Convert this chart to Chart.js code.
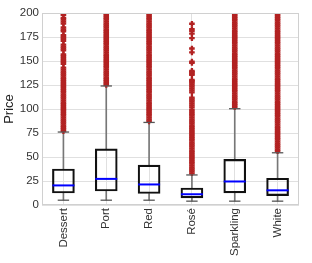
<!DOCTYPE html>
<html>
<head>
<meta charset="utf-8">
<script src="https://cdn.jsdelivr.net/npm/chart.js@4"></script>
<style>
  html, body { margin: 0; padding: 0; background: #fff; }
  #wrap { width: 312px; height: 263px; }
</style>
</head>
<body>
<div id="wrap"><canvas id="chart"></canvas></div>
<script>
// ─── Data ───
const categories = ['Dessert', 'Port', 'Red', 'Rosé', 'Sparkling', 'White'];
const whiskerLow = [5, 5, 5, 4, 4, 4];
const q1 = [12.5, 14.6, 12, 7.5, 12.6, 9.8];
const median = [20.4, 27.2, 21.4, 11.2, 24.5, 15.3];
const q3 = [37.5, 58.5, 41.5, 17.7, 47.6, 27.9];
const whiskerHigh = [76, 124, 86, 31.3, 100.3, 54.4];

const outDessert = [77, 79, 81, 83, 85, 87, 89, 91, 93, 95, 97, 99, 101, 103, 105, 107, 109, 111, 113, 115, 117,
  119, 121, 123, 125, 127, 129, 131, 133, 135, 137, 139, 141, 143, 147, 149, 151, 153, 155, 157, 161, 163, 165,
  167, 171, 173, 175, 177, 181, 183, 185, 189, 191, 193, 195, 198, 200, 202, 204];
const outPort = [125, 127, 129, 131, 133, 135, 137, 139, 141, 143, 145, 147, 149, 151, 153, 155, 157, 159, 161,
  163, 165, 167, 169, 171, 173, 175, 177, 179, 181, 183, 185, 187, 189, 191, 193, 195, 197, 199, 201, 203];
const outRed = [87, 89, 91, 93, 95, 97, 99, 101, 103, 105, 107, 109, 111, 113, 115, 117, 119, 121, 123, 125, 127,
  129, 131, 133, 135, 137, 139, 141, 143, 145, 147, 149, 151, 153, 155, 157, 159, 161, 163, 165, 167, 169, 171,
  173, 175, 177, 179, 181, 183, 185, 187, 189, 191, 193, 195, 197, 199, 201, 203];
const outRose = [33, 35, 37, 39, 41, 43, 45, 47, 49, 51, 53, 55, 57, 59, 61, 63, 65, 67, 69, 71, 73, 75, 77, 79,
  81, 83, 85, 87, 89, 91, 93, 95, 97, 99, 101.7, 103.8, 105.8, 107.9, 109.9, 111.9, 117.3, 119.4, 121.4, 123.5,
  125.5, 127.6, 128.9, 130.3, 135.7, 137, 138.4, 139.8, 148, 149.3, 158.9, 163, 173.8, 178.6, 181.3, 183.3, 188.8];
const outSparkling = [102, 104, 106, 108, 110, 112, 114, 116, 118, 120, 122, 124, 126, 128, 130, 132, 134, 136,
  138, 140, 142, 144, 146, 148, 150, 152, 154, 156, 158, 160, 162, 164, 166, 168, 170, 172, 174, 176, 178, 180,
  182, 184, 186, 188, 190, 192, 194, 196, 198, 200, 202, 204];
const outWhite = [56, 58, 60, 62, 64, 66, 68, 70, 72, 74, 76, 78, 80, 82, 84, 86, 88, 90, 92, 94, 96, 98, 100, 102,
  104, 106, 108, 110, 112, 114, 116, 118, 120, 122, 124, 126, 128, 130, 132, 134, 136, 138, 140, 142, 144, 146,
  148, 150, 152, 154, 156, 158, 160, 162, 164, 166, 168, 170, 172, 174, 176, 178, 180, 182, 184, 186, 188, 190,
  192, 194, 196, 198, 200, 202, 204];
const outliers = [outDessert, outPort, outRed, outRose, outSparkling, outWhite];

const yTicks = [0, 25, 50, 75, 100, 125, 150, 175, 200];

const FONT = "'Liberation Sans', Arial, sans-serif";
const TEXT = '#333';
const GRID = '#e0e0e0';

// x/y pairs for the point-style marks
const atCats = vals => vals.map((v, i) => ({ x: categories[i], y: v }));
const outlierPoints = outliers.flatMap((list, i) => list.map(v => ({ x: categories[i], y: v })));

// Light frame round the plot area, as in the seaborn whitegrid look
const frame = {
  id: 'frame',
  afterDraw(chart) {
    const { ctx, chartArea: a } = chart;
    ctx.save();
    ctx.strokeStyle = '#d0d0d0';
    ctx.lineWidth = 1;
    ctx.strokeRect(Math.round(a.left) + 0.5, Math.round(a.top) + 0.5,
      Math.round(a.right - a.left) - 1, Math.round(a.bottom - a.top) - 1);
    ctx.restore();
  }
};

new Chart(document.getElementById('chart'), {
  data: {
    labels: categories,
    datasets: [
      {
        type: 'bar', label: 'whisker low', order: 6, grouped: false,
        data: categories.map((_, i) => [whiskerLow[i], q1[i]]),
        backgroundColor: '#777', borderWidth: 0, barThickness: 1,
      },
      {
        type: 'bar', label: 'whisker high', order: 6, grouped: false,
        data: categories.map((_, i) => [q3[i], whiskerHigh[i]]),
        backgroundColor: '#777', borderWidth: 0, barThickness: 1,
      },
      {
        type: 'line', label: 'outliers', order: 5, showLine: false, clip: 0,
        data: outlierPoints,
        pointStyle: 'cross', pointRadius: 2.8, pointBorderWidth: 2.3,
        pointBorderColor: '#b22222', pointBackgroundColor: '#b22222',
      },
      {
        type: 'bar', label: 'box', order: 4, grouped: false,
        data: categories.map((_, i) => [q1[i], q3[i]]),
        backgroundColor: 'rgba(0,0,0,0)', borderColor: '#111', borderWidth: 1.5,
        borderSkipped: false, barThickness: 22,
      },
      {
        type: 'line', label: 'caps low', order: 2, showLine: false,
        data: atCats(whiskerLow),
        pointStyle: 'line', pointRadius: 5.7, pointBorderWidth: 1.3, pointBorderColor: '#555',
      },
      {
        type: 'line', label: 'caps high', order: 2, showLine: false,
        data: atCats(whiskerHigh),
        pointStyle: 'line', pointRadius: 5.7, pointBorderWidth: 1.3, pointBorderColor: '#555',
      },
      {
        type: 'line', label: 'median', order: 1, showLine: false,
        data: atCats(median),
        pointStyle: 'line', pointRadius: 11, pointBorderWidth: 2, pointBorderColor: '#0000ff',
      },
    ],
  },
  options: {
    responsive: true,
    maintainAspectRatio: false,
    animation: false,
    layout: { padding: { top: 9, right: 6, left: 0, bottom: 0 } },
    plugins: { legend: { display: false }, tooltip: { enabled: false } },
    scales: {
      x: {
        type: 'category',
        offset: true,
        grid: { color: GRID, offset: false, drawTicks: false },
        border: { display: false },
        ticks: {
          color: TEXT, font: { family: FONT, size: 11.5 }, padding: 3,
          minRotation: 90, maxRotation: 90, autoSkip: false,
        },
        afterFit: s => { s.height = 58; s.paddingRight = 0; s.paddingLeft = 0; },
      },
      y: {
        min: 0, max: 200,
        afterBuildTicks: s => { s.ticks = yTicks.map(v => ({ value: v })); },
        grid: { color: GRID, drawTicks: false },
        border: { display: false },
        ticks: { color: TEXT, font: { family: FONT, size: 11.5 }, padding: 3 },
        title: {
          display: true, text: 'Price', color: '#222',
          font: { family: FONT, size: 13 }, padding: { top: 2, bottom: 0 },
        },
        afterFit: s => { s.width = 42; s.paddingTop = 0; s.paddingBottom = 0; },
      },
    },
  },
  plugins: [frame],
});
</script>
</body>
</html>
